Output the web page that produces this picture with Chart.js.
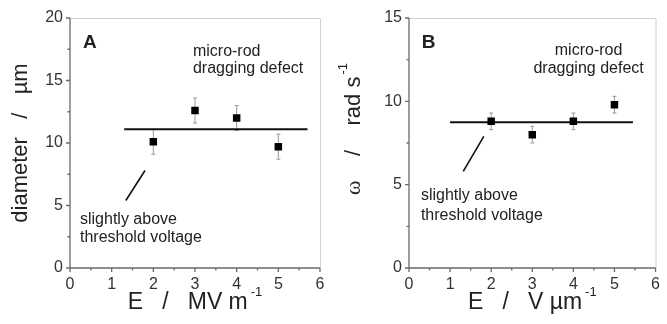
<!DOCTYPE html>
<html>
<head>
<meta charset="utf-8">
<script src="https://cdn.jsdelivr.net/npm/chart.js@4/dist/chart.umd.min.js"></script>
<style>
  html, body { margin: 0; padding: 0; background: #fff; }
  #wrap { position: relative; width: 667px; height: 324px; }
  .panel { position: absolute; top: 0; height: 324px; }
</style>
</head>
<body>
<div id="wrap">
  <div class="panel" style="left:0;width:333px"><canvas id="chartA"></canvas></div>
  <div class="panel" style="left:333px;width:334px"><canvas id="chartB"></canvas></div>
</div>
<script>
// panel A: rod diameter vs field
const fieldA = [2, 3, 4, 5];
const diameter = [10.1, 12.6, 12.0, 9.7];
const diameterErr = [1.0, 1.0, 1.0, 1.0];
const diameterFitX = [1.3, 5.7];
const diameterFitY = [11.1, 11.1];
const arrowAX = [1.34, 1.80];
const arrowAY = [5.4, 7.8];

// panel B: angular velocity vs field
const fieldB = [2, 3, 4, 5];
const omega = [8.8, 8.0, 8.8, 9.8];
const omegaErr = [0.5, 0.5, 0.5, 0.5];
const omegaFitX = [1.0, 5.45];
const omegaFitY = [8.75, 8.75];
const arrowBX = [1.32, 1.82];
const arrowBY = [5.8, 7.9];

const xTicks = [0, 1, 2, 3, 4, 5, 6];
const yTicksA = [0, 5, 10, 15, 20];
const yTicksB = [0, 5, 10, 15];

const SANS = '"Liberation Sans", Arial, sans-serif';

function pts(xs, ys) {
  return xs.map((x, i) => ({ x: x, y: ys[i] }));
}

// vertical error bars with small caps, light gray
const errorBars = {
  id: 'errorBars',
  beforeDatasetsDraw(chart) {
    const { ctx, scales: { y } } = chart;
    chart.data.datasets.forEach((ds, i) => {
      if (!ds.errors) return;
      const meta = chart.getDatasetMeta(i);
      ctx.save();
      ctx.strokeStyle = '#9a9a9a';
      ctx.lineWidth = 1;
      meta.data.forEach((pt, j) => {
        const v = ds.data[j].y, e = ds.errors[j];
        const top = y.getPixelForValue(v + e), bot = y.getPixelForValue(v - e);
        ctx.beginPath();
        ctx.moveTo(pt.x, top); ctx.lineTo(pt.x, bot);
        ctx.moveTo(pt.x - 2, top); ctx.lineTo(pt.x + 2, top);
        ctx.moveTo(pt.x - 2, bot); ctx.lineTo(pt.x + 2, bot);
        ctx.stroke();
      });
      ctx.restore();
    });
  }
};

// axis lines, faint top/right frame, major + minor ticks
const frame = {
  id: 'frame',
  afterDraw(chart, args, opts) {
    const { ctx, chartArea: { left, right, top, bottom }, scales: { x, y } } = chart;
    ctx.save();
    ctx.strokeStyle = '#d0d0d0';
    ctx.lineWidth = 1;
    ctx.beginPath();
    ctx.moveTo(left, top + 0.5); ctx.lineTo(right + 0.5, top + 0.5); ctx.lineTo(right + 0.5, bottom);
    ctx.stroke();

    ctx.strokeStyle = '#6a6a6a';
    ctx.lineWidth = 1.3;
    ctx.beginPath();
    ctx.moveTo(left, top); ctx.lineTo(left, bottom); ctx.lineTo(right, bottom);
    for (let v = x.min; v <= x.max + 1e-9; v += 0.5) {
      const px = x.getPixelForValue(v);
      const len = Number.isInteger(v) ? 4 : 2.5;
      ctx.moveTo(px, bottom); ctx.lineTo(px, bottom + len);
    }
    const step = opts.yMinor;
    for (let v = y.min; v <= y.max + 1e-9; v += step) {
      const py = y.getPixelForValue(v);
      const len = Math.abs(v % (step * 2)) < 1e-9 ? 4 : 2.5;
      ctx.moveTo(left, py); ctx.lineTo(left - len, py);
    }
    ctx.stroke();
    ctx.restore();
  }
};

// draw a run of text pieces (with superscripts) centred on (cx, cy)
function drawRich(ctx, cx, cy, rot, pieces) {
  ctx.save();
  ctx.translate(cx, cy);
  ctx.rotate(rot);
  ctx.textBaseline = 'alphabetic';
  ctx.textAlign = 'left';
  let total = 0;
  pieces.forEach(p => { ctx.font = p.font; p.w = ctx.measureText(p.t).width; total += p.w + (p.gap || 0); });
  let pos = -total / 2;
  pieces.forEach(p => {
    ctx.font = p.font;
    ctx.fillStyle = '#222';
    ctx.fillText(p.t, pos, p.dy || 0);
    pos += p.w + (p.gap || 0);
  });
  ctx.restore();
}

const axisTitles = {
  id: 'axisTitles',
  afterDraw(chart, args, opts) {
    const { ctx, chartArea: { left, right, top, bottom } } = chart;
    drawRich(ctx, (left + right) / 2, opts.xBase, 0, opts.x);
    drawRich(ctx, opts.yBase, (top + bottom) / 2 + (opts.yShift || 0), -Math.PI / 2, opts.y);
  }
};

// free text placed in data coordinates
const notes = {
  id: 'notes',
  afterDraw(chart, args, opts) {
    const { ctx, scales: { x, y } } = chart;
    ctx.save();
    ctx.fillStyle = '#222';
    ctx.textBaseline = 'alphabetic';
    opts.items.forEach(n => {
      ctx.font = n.font || ('16px ' + SANS);
      ctx.textAlign = n.align || 'left';
      ctx.fillText(n.text, x.getPixelForValue(n.x), y.getPixelForValue(n.y));
    });
    ctx.restore();
  }
};

function makePanel(canvas, cfg) {
  return new Chart(canvas, {
    type: 'scatter',
    plugins: [errorBars, frame, axisTitles, notes],
    data: {
      datasets: [
        {
          data: pts(cfg.fitX, cfg.fitY), showLine: true, pointRadius: 0,
          borderColor: '#111', borderWidth: 2, order: 2
        },
        {
          data: pts(cfg.arrowX, cfg.arrowY), showLine: true, pointRadius: 0,
          borderColor: '#111', borderWidth: 1.6, order: 2
        },
        {
          data: pts(cfg.xs, cfg.ys), errors: cfg.errs, pointStyle: 'rect', pointRadius: 5.3,
          backgroundColor: '#000', borderColor: '#000', borderWidth: 0, order: 1
        }
      ]
    },
    options: {
      responsive: false,
      animation: false,
      events: [],
      layout: { padding: { left: 0, top: 18, right: cfg.padRight, bottom: 0 } },
      plugins: {
        legend: { display: false },
        tooltip: { enabled: false },
        frame: { yMinor: cfg.yTicks[1] / 2 },
        axisTitles: cfg.titles,
        notes: { items: cfg.notes }
      },
      scales: {
        x: {
          type: 'linear', min: 0, max: 6,
          afterFit: s => { s.height = 56; },
          afterBuildTicks: s => { s.ticks = xTicks.map(v => ({ value: v })); },
          grid: { display: false, drawTicks: false },
          border: { display: false },
          ticks: { padding: 7, color: '#333', font: { family: SANS, size: 16 } }
        },
        y: {
          type: 'linear', min: 0, max: cfg.yTicks[cfg.yTicks.length - 1],
          afterFit: s => { s.width = cfg.axisW; },
          afterBuildTicks: s => { s.ticks = cfg.yTicks.map(v => ({ value: v })); },
          grid: { display: false, drawTicks: false },
          border: { display: false },
          ticks: { padding: 7, color: '#333', font: { family: SANS, size: 16 } }
        }
      }
    }
  });
}

const cA = document.getElementById('chartA');
cA.width = 333; cA.height = 324;
const cB = document.getElementById('chartB');
cB.width = 334; cB.height = 324;

const big = '23px ' + SANS;
const sup = '13px ' + SANS;

makePanel(cA, {
  xs: fieldA, ys: diameter, errs: diameterErr,
  fitX: diameterFitX, fitY: diameterFitY,
  arrowX: arrowAX, arrowY: arrowAY,
  yTicks: yTicksA, axisW: 70, padRight: 13,
  titles: {
    xBase: 309, yBase: 27,
    x: [{ t: 'E   /   MV m', font: big, gap: 3 }, { t: '-1', font: sup, dy: -13 }],
    y: [{ t: 'diameter   /   \u00b5m', font: '22px ' + SANS }]
  },
  notes: [
    { text: 'A', x: 0.31, y: 17.6, font: 'bold 19px ' + SANS },
    { text: 'micro-rod', x: 2.95, y: 17.0 },
    { text: 'dragging defect', x: 2.95, y: 15.6 },
    { text: 'slightly above', x: 0.24, y: 3.5 },
    { text: 'threshold voltage', x: 0.24, y: 2.05 }
  ]
});

makePanel(cB, {
  xs: fieldB, ys: omega, errs: omegaErr,
  fitX: omegaFitX, fitY: omegaFitY,
  arrowX: arrowBX, arrowY: arrowBY,
  yTicks: yTicksB, axisW: 76, padRight: 7,
  titles: {
    xBase: 309, yBase: 27, yShift: -14,
    x: [{ t: 'E   /   V \u00b5m', font: big, gap: 3 }, { t: '-1', font: sup, dy: -13 }],
    y: [
      { t: '\u03c9', font: '22px "Liberation Serif", serif' },
      { t: '    /    rad s', font: '22px ' + SANS, gap: 2 },
      { t: '-1', font: sup, dy: -13 }
    ]
  },
  notes: [
    { text: 'B', x: 0.31, y: 13.2, font: 'bold 19px ' + SANS },
    { text: 'micro-rod', x: 4.37, y: 12.78, align: 'center' },
    { text: 'dragging defect', x: 4.37, y: 11.72, align: 'center' },
    { text: 'slightly above', x: 0.29, y: 4.08 },
    { text: 'threshold voltage', x: 0.29, y: 2.88 }
  ]
});
</script>
</body>
</html>
